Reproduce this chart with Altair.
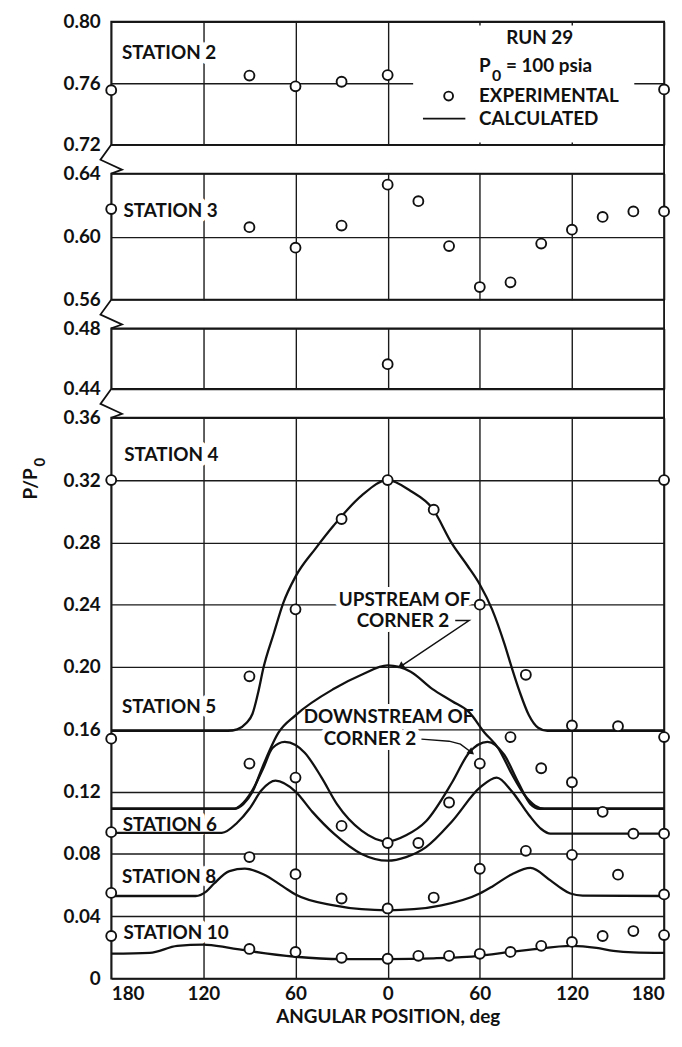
import altair as alt
import pandas as pd

# ---------------- values ----------------
# x: angular position in degrees (left half drawn as negative), y: P/P0
x_ticks = [-180, -120, -60, 0, 60, 120, 180]

# experimental points
st2_ang = [-180, -90, -60, -30, 0, 180]
st2_val = [0.7555, 0.765, 0.758, 0.761, 0.7653, 0.756]

st3_ang = [-180, -90, -60, -30, 0, 20, 40, 60, 80, 100, 120, 140, 160, 180]
st3_val = [0.6175, 0.606, 0.593, 0.607, 0.633, 0.6225, 0.594, 0.568, 0.571, 0.5956, 0.6044, 0.6125, 0.616, 0.616]

mid_ang = [0]
mid_val = [0.4564]

st4_ang = [-180, -90, -60, -30, 0, 30, 60, 90, 120, 150, 180]
st4_val = [0.32, 0.194, 0.237, 0.295, 0.32, 0.301, 0.240, 0.195, 0.1625, 0.162, 0.32]

st5_ang = [-180, -90, -60, -30, 0, 20, 40, 60, 80, 100, 120, 140, 180]
st5_val = [0.154, 0.138, 0.129, 0.098, 0.087, 0.087, 0.113, 0.138, 0.155, 0.135, 0.126, 0.107, 0.155]

st6_ang = [-180, 160, 180]
st6_val = [0.094, 0.093, 0.093]

st8_ang = [-180, -90, -60, -30, 0, 30, 60, 90, 120, 150, 180]
st8_val = [0.055, 0.078, 0.067, 0.0514, 0.045, 0.052, 0.0705, 0.082, 0.0794, 0.0667, 0.054]

st10_ang = [-180, -90, -60, -30, 0, 20, 40, 60, 80, 100, 120, 140, 160, 180]
st10_val = [0.0273, 0.019, 0.0171, 0.0133, 0.0127, 0.0146, 0.0146, 0.0159, 0.0171, 0.021, 0.0235, 0.0273, 0.0305, 0.0279]

# calculated curves
calc4_ang = [-180, -120, -104, -98, -92, -88, -84, -81, -74, -68, -60, -47, -35, -17, 0, 15, 29, 42, 52, 60, 68, 76, 81, 86, 92, 98, 104, 120, 180]
calc4_val = [0.159, 0.159, 0.159, 0.160, 0.164, 0.170, 0.185, 0.199, 0.222, 0.241, 0.258, 0.276, 0.291, 0.310, 0.320, 0.313, 0.302, 0.279, 0.265, 0.253, 0.237, 0.215, 0.199, 0.184, 0.169, 0.161, 0.159, 0.159, 0.159]

calc5up_ang = [-180, -120, -100, -94, -88, -81, -71, -60, -35, -17, 0, 15, 29, 42, 53, 63, 72, 81, 89, 96, 102, 120, 180]
calc5up_val = [0.109, 0.109, 0.109, 0.112, 0.120, 0.137, 0.158, 0.169, 0.186, 0.195, 0.201, 0.197, 0.186, 0.178, 0.171, 0.158, 0.148, 0.131, 0.118, 0.111, 0.109, 0.109, 0.109]

calc5dn_ang = [-180, -120, -100, -96, -88, -81, -75, -67, -60, -54, -43, -33, -17, 0, 12, 25, 42, 53, 65, 76, 85, 93, 99, 120, 180]
calc5dn_val = [0.109, 0.109, 0.109, 0.111, 0.121, 0.135, 0.148, 0.152, 0.150, 0.145, 0.129, 0.112, 0.095, 0.088, 0.092, 0.101, 0.126, 0.145, 0.152, 0.1435, 0.126, 0.112, 0.109, 0.109, 0.109]

calc6_ang = [-180, -120, -108, -98, -90, -82, -73, -60, -49, -35, -17, 0, 12, 25, 42, 60, 71, 81, 92, 100, 106, 120, 180]
calc6_val = [0.0935, 0.0935, 0.0935, 0.100, 0.109, 0.121, 0.127, 0.120, 0.107, 0.093, 0.080, 0.0757, 0.078, 0.0844, 0.101, 0.1225, 0.129, 0.120, 0.105, 0.096, 0.093, 0.093, 0.093]

calc8_ang = [-180, -125, -118, -113, -103, -93, -81, -68, -60, -35, -17, 0, 17, 35, 60, 68, 81, 93, 106, 113, 119, 127, 180]
calc8_val = [0.053, 0.053, 0.056, 0.061, 0.069, 0.0705, 0.067, 0.059, 0.054, 0.047, 0.0445, 0.0438, 0.0445, 0.047, 0.0546, 0.059, 0.067, 0.071, 0.063, 0.058, 0.0546, 0.0533, 0.053]

calc10_ang = [-180, -155, -137, -120, -103, -91, -60, -30, 0, 30, 60, 79, 93, 120, 136, 147, 160, 180]
calc10_val = [0.016, 0.0165, 0.021, 0.0218, 0.0197, 0.0178, 0.014, 0.0125, 0.0125, 0.013, 0.0146, 0.017, 0.0186, 0.021, 0.0197, 0.0178, 0.0168, 0.0165]

# text labels
station_text = ["STATION 2", "STATION 3", "STATION 4", "STATION 5", "STATION 6", "STATION 8", "STATION 10"]
station_ang = [-173, -172, -171.5, -173, -172.5, -173, -172]
station_val = [0.7798, 0.616, 0.336, 0.1746, 0.0985, 0.0654, 0.0292]

note_text = ["UPSTREAM OF", "CORNER 2", "DOWNSTREAM OF", "CORNER 2"]
note_ang = [11, 10, 0.6, -11.5]
note_val = [0.2432, 0.2298, 0.1676, 0.1537]

arrow1_ang = [44, 53, 9]
arrow1_val = [0.2298, 0.2298, 0.2008]
arrow2_ang = [22, 40, 47.4, 54]
arrow2_val = [0.1537, 0.1524, 0.1505, 0.1456]

# ---------------- styling helpers ----------------
FONT = "Lato"
FS = 19
W = 557
INK = "#111111"


def frame(ang, val, **extra):
    d = pd.DataFrame({"angle": ang, "p": val})
    for k, v in extra.items():
        d[k] = v
    return d


def X(show_labels):
    if show_labels:
        axis = alt.Axis(values=x_ticks, labelExpr="abs(datum.value)", title="ANGULAR POSITION, deg",
                        grid=True, ticks=False, domain=False, labelPadding=6, titlePadding=4, labelFlush=True,
                        labelFontSize=FS, titleFontSize=FS, labelFont=FONT, titleFont=FONT,
                        labelFontWeight="bold", titleFontWeight="bold", labelColor=INK, titleColor=INK)
    else:
        axis = alt.Axis(values=x_ticks, labels=False, ticks=False, domain=False, title=None, grid=True)
    return alt.X("angle:Q", scale=alt.Scale(domain=[-180, 180], nice=False, zero=False), axis=axis)


def Y(domain, values):
    axis = alt.Axis(values=values, labelExpr="datum.value == 0 ? '0' : format(datum.value, '.2f')",
                    title=None, grid=True, ticks=False, domain=False, labelPadding=11,
                    labelFontSize=FS, labelFont=FONT, labelFontWeight="bold", labelColor=INK)
    return alt.Y("p:Q", scale=alt.Scale(domain=domain, nice=False, zero=False), axis=axis)


def points(df, x, y):
    return alt.Chart(df).mark_circle(size=100, fill="white", stroke=INK, strokeWidth=1.9, opacity=1).encode(x=x, y=y)


def curves(df, x, y):
    return alt.Chart(df).mark_line(color=INK, strokeWidth=2.3, interpolate="monotone").encode(
        x=x, y=y, detail="series:N")


def texts(df, x, y, align="left", size=FS):
    halo = alt.Chart(df).mark_text(align=align, baseline="middle", font=FONT, fontSize=size, fontWeight="bold",
                                   fill="white", stroke="white", strokeWidth=10, strokeJoin="round").encode(
        x=x, y=y, text="text:N")
    ink = alt.Chart(df).mark_text(align=align, baseline="middle", font=FONT, fontSize=size, fontWeight="bold",
                                  color=INK).encode(x=x, y=y, text="text:N")
    return halo, ink


def plain(df, x, y, align="left", size=FS):
    return alt.Chart(df).mark_text(align=align, baseline="middle", font=FONT, fontSize=size, fontWeight="bold",
                                   color=INK).encode(x=x, y=y, text="text:N")


def gap_marks(x, y, bottom, per_px, gap_px):
    zz = pd.DataFrame({"angle": [-180, -187, -173, -180],
                       "p": [bottom, bottom - 15 * per_px, bottom - 25 * per_px, bottom - gap_px * per_px],
                       "i": [0, 1, 2, 3]})
    zig = alt.Chart(zz).mark_line(color=INK, strokeWidth=1.8).encode(x=x, y=y, order="i:O")
    rr = pd.DataFrame({"angle": [180], "p": [bottom], "p2": [bottom - gap_px * per_px]})
    rule = alt.Chart(rr).mark_rule(color=INK, strokeWidth=1.8).encode(x=x, y=y, y2="p2:Q")
    return zig, rule


GAP = 29

# ---------------- panel 1: 0.72 - 0.80 ----------------
H1 = 124
x1, y1 = X(False), Y([0.72, 0.80], [0.72, 0.76, 0.80])
legend_box = alt.Chart(pd.DataFrame({"angle": [16.6], "angle2": [160.6], "p": [0.7215], "p2": [0.7975]})).mark_rect(
    fill="white").encode(x=x1, x2="angle2:Q", y=y1, y2="p2:Q")
st2_lab = frame([station_ang[0]], [station_val[0]], text=station_text[0])
h2, t2 = texts(st2_lab, x1, y1)
legend_txt = frame([59.5, 59.5, 59.5], [0.7715, 0.7517, 0.737], text=["P", "EXPERIMENTAL", "CALCULATED"])
legend_txt2 = frame([77], [0.7709], text=["= 100 psia"])
run_txt = frame([99], [0.7894], text=["RUN 29"])
sub_txt = frame([68], [0.7648], text=["0"])
leg_circle = frame([39.7], [0.7517])
leg_line = pd.DataFrame({"angle": [23], "angle2": [50.6], "p": [0.737]})
z1, r1 = gap_marks(x1, y1, 0.72, 0.08 / H1, GAP)

panel1 = alt.layer(
    legend_box, h2, z1, r1,
    points(frame(st2_ang, st2_val), x1, y1),
    t2,
    plain(legend_txt, x1, y1),
    plain(legend_txt2, x1, y1),
    plain(run_txt, x1, y1, align="center"),
    plain(sub_txt, x1, y1, size=16),
    alt.Chart(leg_circle).mark_circle(size=80, fill="white", stroke=INK, strokeWidth=1.9, opacity=1).encode(x=x1, y=y1),
    alt.Chart(leg_line).mark_rule(color=INK, strokeWidth=1.8).encode(x=x1, x2="angle2:Q", y=y1),
).properties(width=W, height=H1)

# ---------------- panel 2: 0.56 - 0.64 ----------------
H2 = 127
x2, y2 = X(False), Y([0.56, 0.64], [0.56, 0.60, 0.64])
h3, t3 = texts(frame([station_ang[1]], [station_val[1]], text=station_text[1]), x2, y2)
z2, r2 = gap_marks(x2, y2, 0.56, 0.08 / H2, GAP)
panel2 = alt.layer(h3, z2, r2, points(frame(st3_ang, st3_val), x2, y2), t3).properties(width=W, height=H2)

# ---------------- panel 3: 0.44 - 0.48 ----------------
H3 = 61
x3, y3 = X(False), Y([0.44, 0.48], [0.44, 0.48])
z3, r3 = gap_marks(x3, y3, 0.44, 0.04 / H3, GAP)
panel3 = alt.layer(z3, r3, points(frame(mid_ang, mid_val), x3, y3)).properties(width=W, height=H3)

# ---------------- panel 4: 0 - 0.36 ----------------
H4 = 565
x4 = X(True)
y4 = Y([0, 0.36], [0, 0.04, 0.08, 0.12, 0.16, 0.20, 0.24, 0.28, 0.32, 0.36])
curve_df = pd.concat([
    frame(calc4_ang, calc4_val, series="station 4"),
    frame(calc5up_ang, calc5up_val, series="station 5 upstream of corner 2"),
    frame(calc5dn_ang, calc5dn_val, series="station 5 downstream of corner 2"),
    frame(calc6_ang, calc6_val, series="station 6"),
    frame(calc8_ang, calc8_val, series="station 8"),
    frame(calc10_ang, calc10_val, series="station 10"),
])
pts_df = pd.concat([
    frame(st4_ang, st4_val), frame(st5_ang, st5_val), frame(st6_ang, st6_val),
    frame(st8_ang, st8_val), frame(st10_ang, st10_val),
])
st_lab = frame(station_ang[2:], station_val[2:], text=station_text[2:])
hs, ts = texts(st_lab, x4, y4)
notes = frame(note_ang, note_val, text=note_text)
hn, tn = texts(notes, x4, y4, align="center")
arrows = pd.concat([
    frame(arrow1_ang, arrow1_val, series="a1", i=list(range(len(arrow1_ang)))),
    frame(arrow2_ang, arrow2_val, series="a2", i=list(range(len(arrow2_ang)))),
])
arrow_lines = alt.Chart(arrows).mark_line(color=INK, strokeWidth=1.5).encode(
    x=x4, y=y4, detail="series:N", order="i:Q")
heads = pd.DataFrame({"angle": [arrow1_ang[-1], arrow2_ang[-1]], "p": [arrow1_val[-1], arrow2_val[-1]],
                      "rot": [237, 129]})
arrow_heads = alt.Chart(heads).mark_point(shape="triangle", filled=True, color=INK, size=60, opacity=1).encode(
    x=x4, y=y4, angle=alt.Angle("rot:Q", scale=None))
ytitle = alt.Chart(pd.DataFrame({"p": [0.3175], "text": ["P/P"]})).mark_text(
    angle=270, align="center", baseline="middle", font=FONT, fontSize=FS, fontWeight="bold", color=INK).encode(
    x=alt.value(-81), y=y4, text="text:N")
ytitle_sub = alt.Chart(pd.DataFrame({"p": [0.3315], "text": ["0"]})).mark_text(
    angle=270, align="center", baseline="middle", font=FONT, fontSize=15, fontWeight="bold", color=INK).encode(
    x=alt.value(-72), y=y4, text="text:N")

panel4 = alt.layer(
    hs, hn, curves(curve_df, x4, y4), arrow_lines, arrow_heads, points(pts_df, x4, y4), ts, tn, ytitle, ytitle_sub
).properties(width=W, height=H4)

chart = alt.vconcat(panel1, panel2, panel3, panel4, spacing=GAP, bounds="flush").properties(
    padding={"left": 13, "right": 0, "top": 0, "bottom": 0}, background="white"
).configure_view(stroke=INK, strokeWidth=1.8).configure_axis(
    gridColor="#1a1a1a", gridWidth=1.4, gridOpacity=1
)

chart.save("out.html", embed_options={"renderer": "svg", "actions": False})
